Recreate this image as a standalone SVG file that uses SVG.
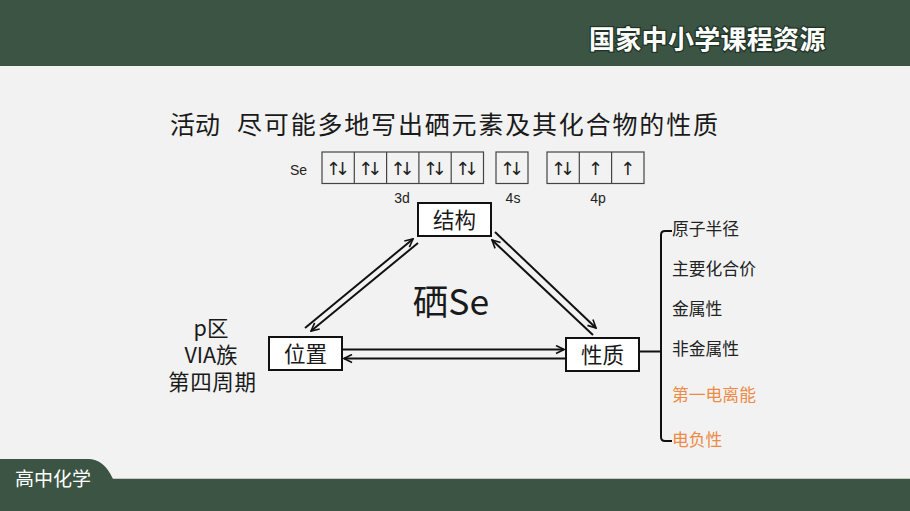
<svg xmlns="http://www.w3.org/2000/svg" width="910" height="511" viewBox="0 0 910 511">
<style>
.cjk{font-family:"Noto Sans CJK SC","Noto Sans",sans-serif;}
.t{font-family:"Noto Sans CJK SC","Noto Sans",sans-serif;fill:#1a1a1a;}
.box{fill:#fff;stroke:#111;stroke-width:2;}
.orb{fill:none;stroke:#444;stroke-width:1.2;}
.ar{font-family:"DejaVu Sans",sans-serif;font-size:18px;fill:#222;}
.lbl{font-family:"Liberation Sans",Arial,sans-serif;font-size:14px;fill:#222;text-anchor:middle;}
.con{stroke:#111;stroke-width:2;fill:none;marker-end:url(#ah);}
.item{font-family:"Noto Sans CJK SC",sans-serif;font-size:16.8px;fill:#222;}
.org{fill:#ee8a45;}
</style>
<defs>
<marker id="ah" viewBox="0 0 10 10" refX="9" refY="5" markerWidth="5" markerHeight="5" orient="auto" markerUnits="strokeWidth">
<path d="M1,1 L9,5 L1,9" fill="none" stroke="#111" stroke-width="1.6"/>
</marker>
</defs>
<rect x="0" y="0" width="910" height="511" fill="#f2f2f2"/>
<rect x="0" y="0" width="910" height="66" fill="#3b5443"/>
<text x="589" y="49" class="cjk" font-size="26" font-weight="bold" fill="#fff" stroke="#1f3326" stroke-width="2.5" paint-order="stroke" letter-spacing="0.3">国家中小学课程资源</text>
<line x1="100" y1="478.5" x2="910" y2="478.5" stroke="#c8c8c8" stroke-width="1"/>
<path d="M0,459 L88,459 Q104,459 113,479 L910,479 L910,511 L0,511 Z" fill="#3b5443"/>
<text x="15" y="486" class="cjk" font-size="19" fill="#fff">高中化学</text>

<g id="title">
<text x="170" y="134" class="t" font-size="25" textLength="50" lengthAdjust="spacing">活动</text>
<text x="237" y="134" class="t" font-size="25" textLength="481" lengthAdjust="spacing">尽可能多地写出硒元素及其化合物的性质</text>
</g>

<g id="orbitals">
<text x="290" y="175" class="lbl" style="text-anchor:start">Se</text>
<rect x="322" y="152" width="161.5" height="31.5" class="orb"/>
<line x1="354.3" y1="152" x2="354.3" y2="183.5" class="orb"/>
<line x1="386.6" y1="152" x2="386.6" y2="183.5" class="orb"/>
<line x1="418.9" y1="152" x2="418.9" y2="183.5" class="orb"/>
<line x1="451.2" y1="152" x2="451.2" y2="183.5" class="orb"/>
<text x="326" y="175" class="ar" textLength="24" lengthAdjust="spacing">↑↓</text>
<text x="358.3" y="175" class="ar" textLength="24" lengthAdjust="spacing">↑↓</text>
<text x="390.6" y="175" class="ar" textLength="24" lengthAdjust="spacing">↑↓</text>
<text x="422.9" y="175" class="ar" textLength="24" lengthAdjust="spacing">↑↓</text>
<text x="455.2" y="175" class="ar" textLength="24" lengthAdjust="spacing">↑↓</text>
<rect x="496" y="152" width="32" height="31.5" class="orb"/>
<text x="500" y="175" class="ar" textLength="24" lengthAdjust="spacing">↑↓</text>
<rect x="547" y="152" width="97" height="31.5" class="orb"/>
<line x1="579.3" y1="152" x2="579.3" y2="183.5" class="orb"/>
<line x1="611.6" y1="152" x2="611.6" y2="183.5" class="orb"/>
<text x="551" y="175" class="ar" textLength="24" lengthAdjust="spacing">↑↓</text>
<text x="595.5" y="175" class="ar" text-anchor="middle">↑</text>
<text x="627.8" y="175" class="ar" text-anchor="middle">↑</text>
<text x="402" y="203" class="lbl">3d</text>
<text x="513" y="203" class="lbl">4s</text>
<text x="598" y="203" class="lbl">4p</text>
</g>

<g id="connectors">
<line x1="305" y1="328" x2="413" y2="239" class="con"/>
<line x1="418" y1="243" x2="311" y2="331" class="con"/>
<line x1="495" y1="232" x2="596" y2="328" class="con"/>
<line x1="593" y1="335" x2="492" y2="240" class="con"/>
<line x1="343" y1="349.5" x2="564" y2="349.5" class="con"/>
<line x1="566" y1="358.5" x2="344" y2="358.5" class="con"/>
<path d="M639,351.5 L661,351.5 M672,231 L665,231 Q661,231 661,235 L661,437 Q661,441 665,441 L672,441" stroke="#111" stroke-width="2" fill="none"/>
</g>

<g id="node-jiegou">
<rect x="418" y="203" width="73" height="33" class="box"/>
<text x="454.5" y="228" class="t" font-size="21.5" text-anchor="middle">结构</text>
</g>
<g id="node-weizhi">
<rect x="269" y="337" width="73" height="33" class="box"/>
<text x="305.5" y="362" class="t" font-size="21.5" text-anchor="middle">位置</text>
</g>
<g id="node-xingzhi">
<rect x="566" y="338" width="73" height="33" class="box"/>
<text x="602.5" y="363" class="t" font-size="21.5" text-anchor="middle">性质</text>
</g>
<g id="center">
<text x="451" y="315" class="t" font-size="35.5" text-anchor="middle">硒Se</text>
</g>
<g id="position-info">
<text x="211" y="336" class="t" font-size="21.5" text-anchor="middle">p区</text>
<text x="211" y="363" class="t" font-size="21.5" text-anchor="middle">VIA族</text>
<text x="212" y="390" class="t" font-size="21.5" text-anchor="middle" textLength="88" lengthAdjust="spacing">第四周期</text>
</g>
<g id="properties">
<text x="672" y="235" class="item">原子半径</text>
<text x="672" y="275" class="item">主要化合价</text>
<text x="672" y="315" class="item">金属性</text>
<text x="672" y="355" class="item">非金属性</text>
<text x="672" y="401" class="item org">第一电离能</text>
<text x="672" y="446" class="item org">电负性</text>
</g>
</svg>
